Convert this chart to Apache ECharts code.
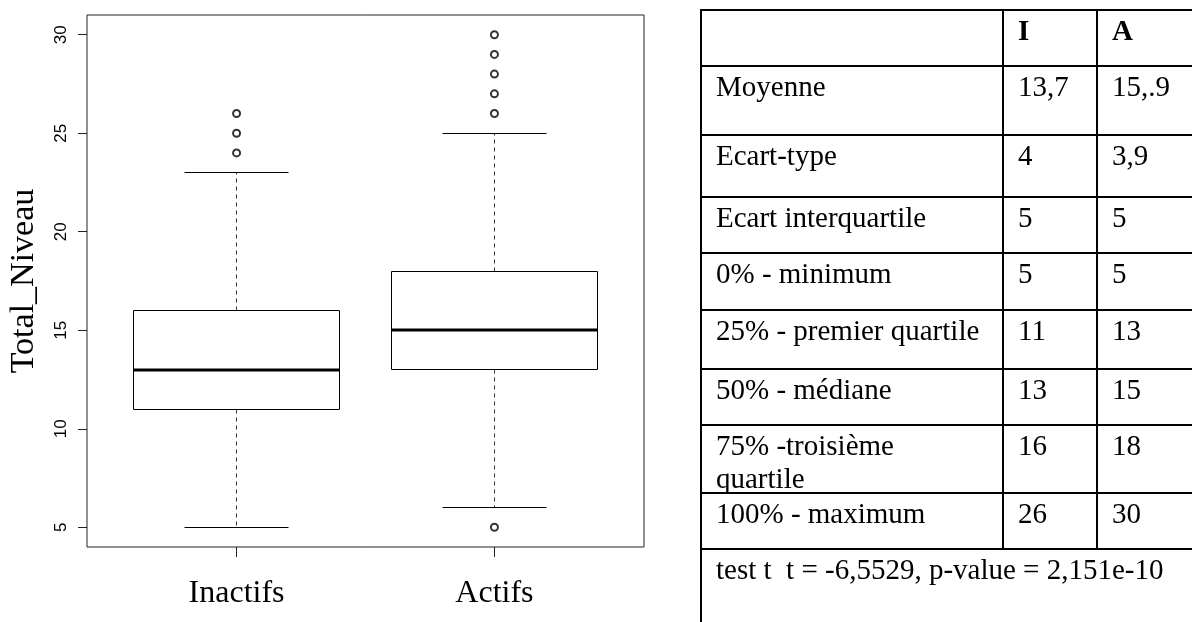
<!DOCTYPE html>
<html>
<head>
<meta charset="utf-8">
<script src="https://cdn.jsdelivr.net/npm/echarts@6/dist/echarts.min.js"></script>
<style>
html,body{margin:0;padding:0;background:#fff;}
#main{width:1192px;height:622px;}
</style>
</head>
<body>
<div id="main"></div>
<script>
// ---- data ----
const categories = ['Inactifs', 'Actifs'];
const whiskerLow = [5, 6];
const q1 = [11, 13];
const medians = [13, 15];
const q3 = [16, 18];
const whiskerHigh = [23, 25];
const outliersInactifs = [24, 25, 26];
const outliersActifs = [5, 26, 27, 28, 29, 30];
const yTicks = [5, 10, 15, 20, 25, 30];
const yAxisTitle = 'Total_Niveau';

const tableHeader = ['', 'I', 'A'];
const rowLabels = ['Moyenne', 'Ecart-type', 'Ecart interquartile', '0% - minimum',
  '25% - premier quartile', '50% - médiane', '75% -troisième\nquartile', '100% - maximum'];
const colI = ['13,7', '4', '5', '5', '11', '13', '16', '26'];
const colA = ['15,.9', '3,9', '5', '5', '13', '15', '18', '30'];
const testNote = 'test t  t = -6,5529, p-value = 2,151e-10';

// ---- layout ----
const tableRowsY = [10, 66, 135, 197, 253, 310, 369, 425, 493, 549];
const tableColsX = [701, 1003, 1097];
const tableRight = 1210;
const tableBottom = 630;
const textFont = '29px "Liberation Serif", "Times New Roman", serif';
const boldFont = 'bold 29px "Liberation Serif", "Times New Roman", serif';

const crisp = v => Math.round(v - 0.5) + 0.5;

const graphics = [];
tableRowsY.forEach(y => {
  graphics.push({ type: 'line', shape: { x1: tableColsX[0] - 1, y1: y, x2: tableRight, y2: y },
    style: { stroke: '#000', lineWidth: 2 } });
});
graphics.push({ type: 'line', shape: { x1: tableColsX[0], y1: tableRowsY[0] - 1, x2: tableColsX[0], y2: tableBottom },
  style: { stroke: '#000', lineWidth: 2 } });
for (let c = 1; c < tableColsX.length; c++) {
  graphics.push({ type: 'line', shape: { x1: tableColsX[c], y1: tableRowsY[0] - 1, x2: tableColsX[c], y2: tableRowsY[tableRowsY.length - 1] + 1 },
    style: { stroke: '#000', lineWidth: 2 } });
}
function cellText(text, col, row, bold) {
  graphics.push({ type: 'text', x: tableColsX[col] + 15, y: tableRowsY[row] + 6,
    style: { text: text, font: bold ? boldFont : textFont, fill: '#000', verticalAlign: 'top', align: 'left', lineHeight: 33 } });
}
tableHeader.forEach((h, c) => { if (h) cellText(h, c, 0, true); });
rowLabels.forEach((lab, i) => {
  cellText(lab, 0, i + 1, false);
  cellText(colI[i], 1, i + 1, false);
  cellText(colA[i], 2, i + 1, false);
});
cellText(testNote, 0, tableRowsY.length - 1, false);

const boxData = categories.map((c, i) => [i + 1, whiskerLow[i], q1[i], medians[i], q3[i], whiskerHigh[i]]);
const outlierData = outliersInactifs.map(v => [1, v]).concat(outliersActifs.map(v => [2, v]));

const chart = echarts.init(document.getElementById('main'), null, { renderer: 'canvas' });
chart.setOption({
  animation: false,
  backgroundColor: '#fff',
  grid: { left: 87, top: 15, width: 557, height: 532, show: true, borderColor: '#222', borderWidth: 1, backgroundColor: 'transparent' },
  xAxis: {
    type: 'value', min: 0.42, max: 2.58,
    axisLine: { show: false },
    splitLine: { show: false },
    axisTick: { show: true, customValues: [1, 2], length: 10, lineStyle: { color: '#222', width: 1 } },
    axisLabel: { customValues: [1, 2], formatter: v => categories[Math.round(v) - 1] || '',
      fontFamily: '"Liberation Serif", "Times New Roman", serif', fontSize: 32, color: '#000', margin: 31 }
  },
  yAxis: {
    type: 'value', min: 4, max: 31,
    name: yAxisTitle, nameLocation: 'middle', nameGap: 46, nameRotate: 90,
    nameTextStyle: { fontFamily: '"Liberation Serif", "Times New Roman", serif', fontSize: 34, color: '#000' },
    axisLine: { show: false },
    splitLine: { show: false },
    axisTick: { show: true, customValues: yTicks, length: 9, lineStyle: { color: '#222', width: 1 } },
    axisLabel: { customValues: yTicks, rotate: 90, fontFamily: '"Liberation Sans", Arial, sans-serif', fontSize: 17, color: '#000', margin: 17 }
  },
  series: [
    {
      type: 'custom',
      data: boxData,
      encode: { x: 0, y: [1, 2, 3, 4, 5] },
      renderItem: function (params, api) {
        const x = api.value(0), lo = api.value(1), a = api.value(2), m = api.value(3), b = api.value(4), hi = api.value(5);
        const tl = api.coord([x - 0.4, b]);
        const br = api.coord([x + 0.4, a]);
        const left = crisp(tl[0]), right = crisp(br[0]), top = crisp(tl[1]), bottom = crisp(br[1]);
        const cx = crisp(api.coord([x, 0])[0]);
        const yHi = crisp(api.coord([x, hi])[1]);
        const yLo = crisp(api.coord([x, lo])[1]);
        const yMed = Math.round(api.coord([x, m])[1]);
        const capL = crisp(api.coord([x - 0.2, hi])[0]);
        const capR = crisp(api.coord([x + 0.2, hi])[0]);
        const thin = { stroke: '#000', lineWidth: 1, fill: null };
        const dash = { stroke: '#333', lineWidth: 1, lineDash: [4, 4], fill: null };
        return {
          type: 'group',
          children: [
            { type: 'line', shape: { x1: cx, y1: top, x2: cx, y2: yHi }, style: dash },
            { type: 'line', shape: { x1: cx, y1: bottom, x2: cx, y2: yLo }, style: dash },
            { type: 'line', shape: { x1: capL, y1: yHi, x2: capR, y2: yHi }, style: thin },
            { type: 'line', shape: { x1: capL, y1: yLo, x2: capR, y2: yLo }, style: thin },
            { type: 'rect', shape: { x: left, y: top, width: right - left, height: bottom - top }, style: { stroke: '#000', lineWidth: 1, fill: '#fff' } },
            { type: 'line', shape: { x1: left, y1: yMed, x2: right, y2: yMed }, style: { stroke: '#000', lineWidth: 3 } }
          ]
        };
      }
    },
    {
      type: 'scatter',
      data: outlierData,
      symbol: 'emptyCircle',
      symbolSize: 7,
      itemStyle: { color: '#000', borderColor: '#000', borderWidth: 1 }
    }
  ],
  graphic: graphics
});
</script>
</body>
</html>
